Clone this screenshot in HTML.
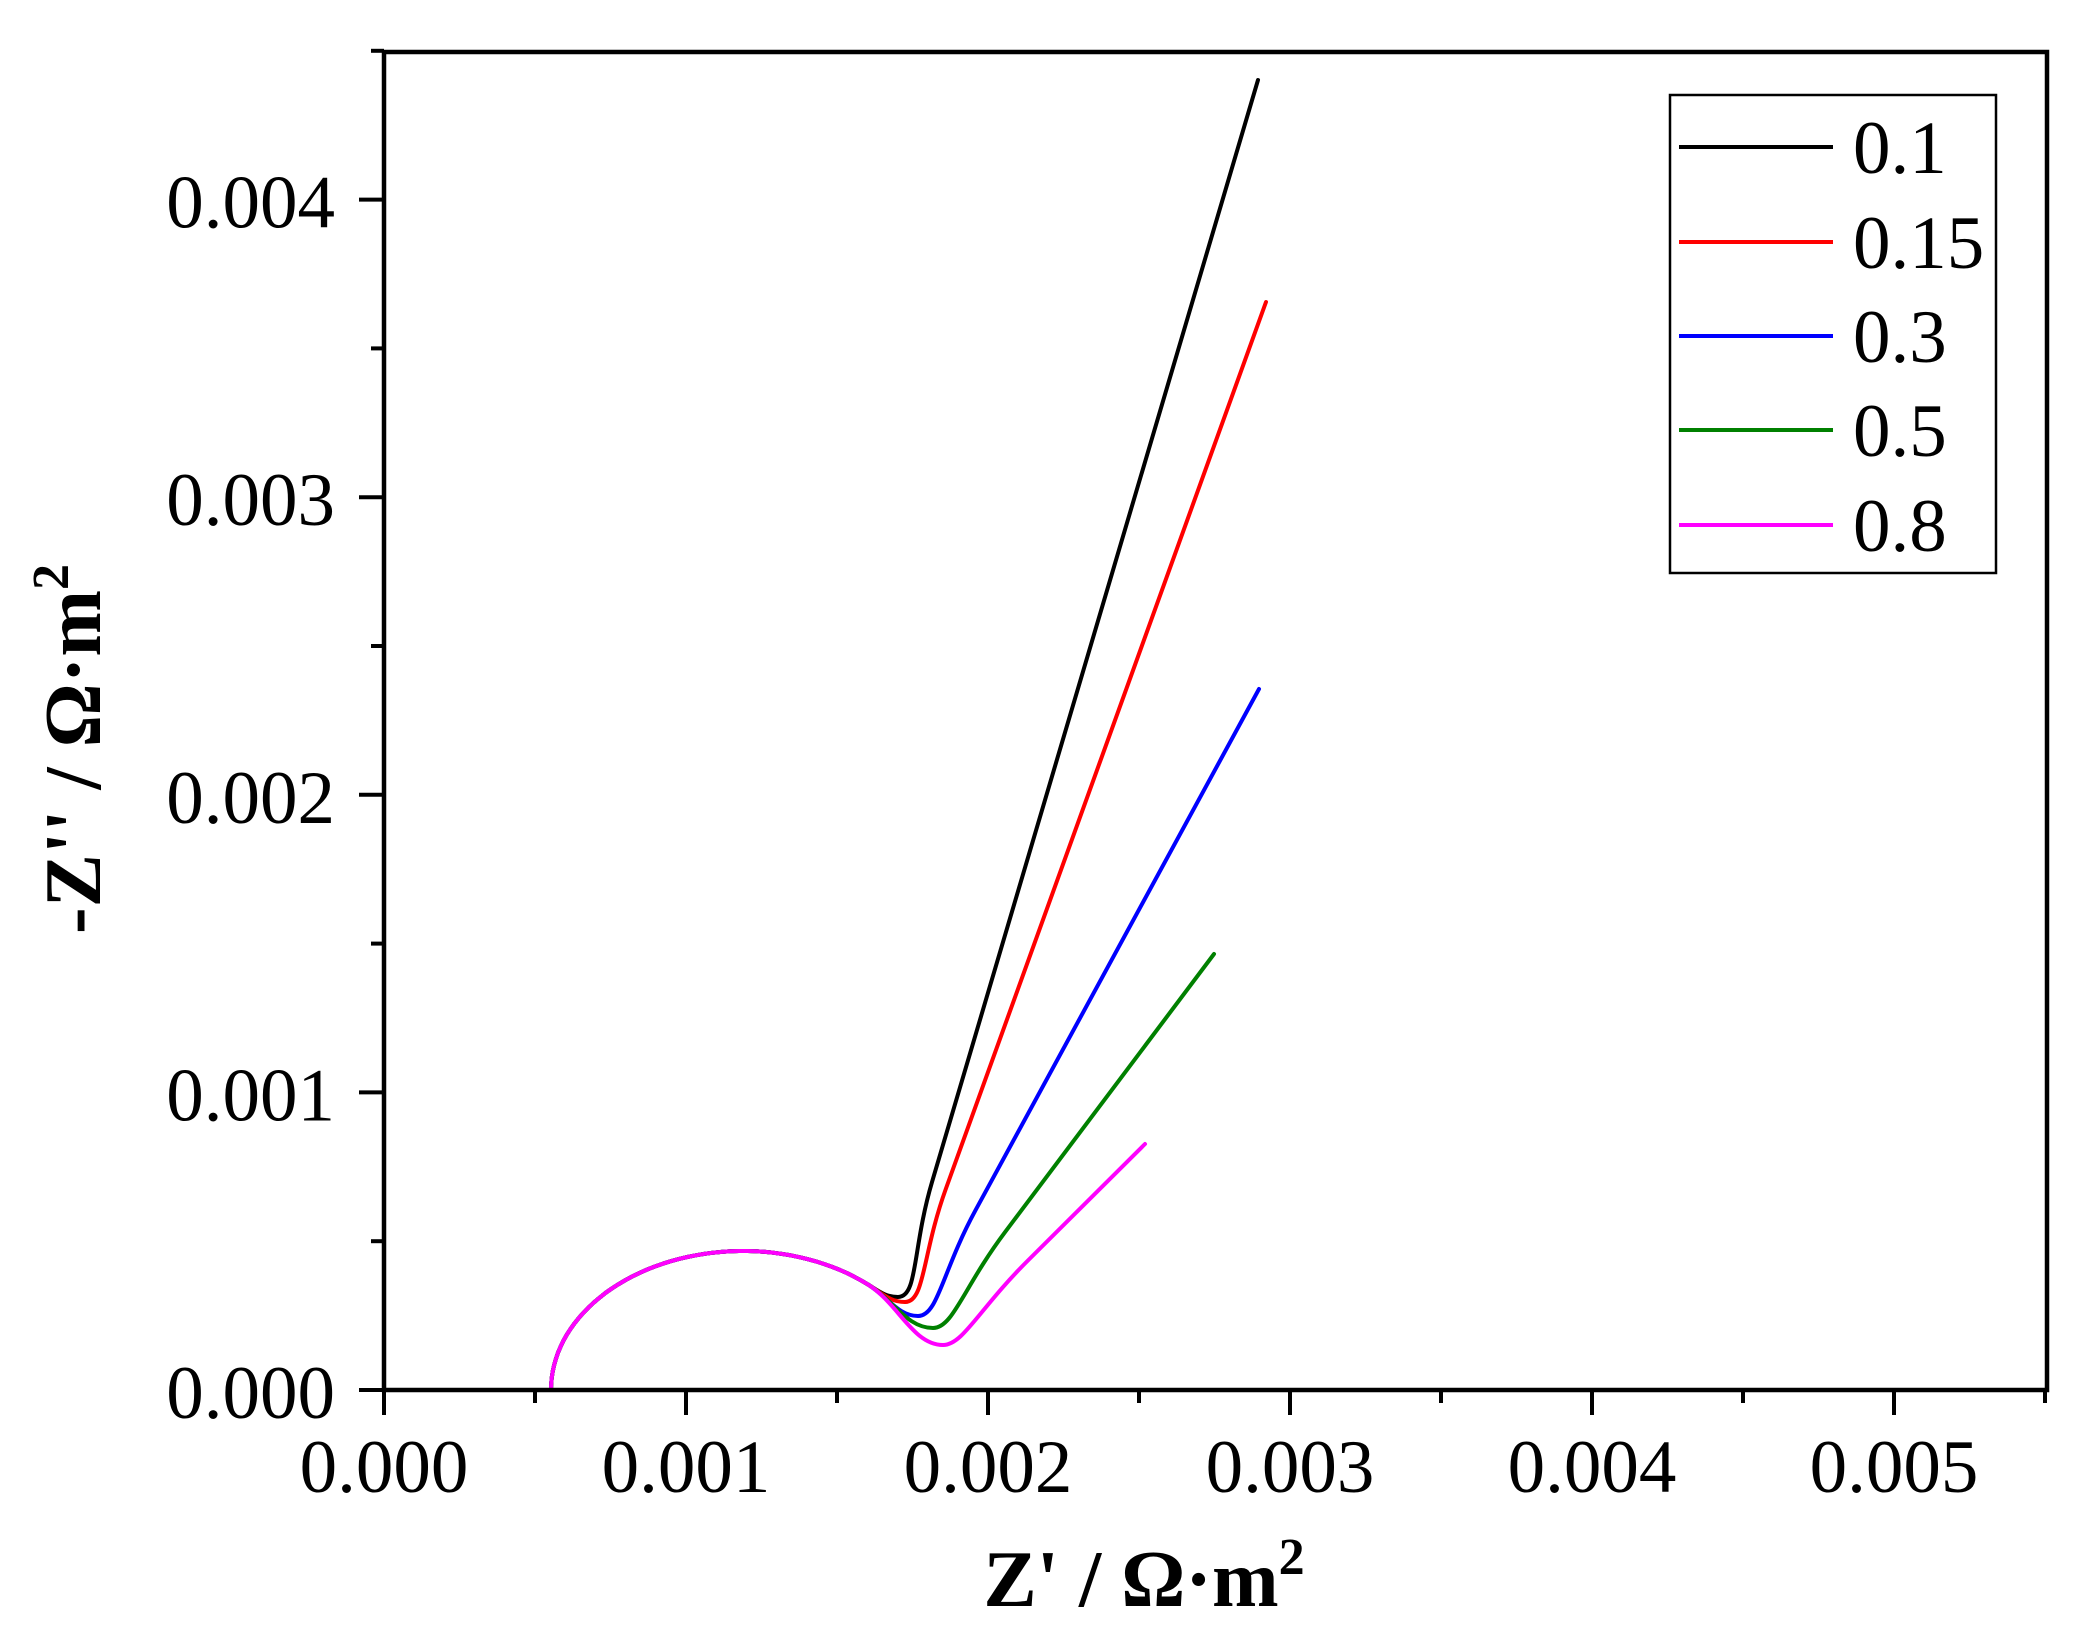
<!DOCTYPE html>
<html><head><meta charset="utf-8"><style>
html,body{margin:0;padding:0;background:#fff;}
svg{display:block;}
text{font-family:"Liberation Serif","DejaVu Serif",serif;fill:#000;}
</style></head><body>
<svg id="s" width="2099" height="1650" viewBox="0 0 2099 1650" xmlns="http://www.w3.org/2000/svg">
<rect x="0" y="0" width="2099" height="1650" fill="#fff"/>
<g id="curves" fill="none" stroke-width="4" stroke-linejoin="round" stroke-linecap="round"></g>
<rect x="384" y="52" width="1663" height="1338" fill="none" stroke="#000" stroke-width="4.5"/>
<g id="ticks" stroke="#000" stroke-width="4"></g>
<g id="labels" font-size="75"></g>
<text x="1144" y="1606" font-size="80" font-weight="bold" text-anchor="middle">Z' / Ω·m<tspan font-size="52" dy="-32">2</tspan></text>
<text transform="translate(100,749) rotate(-90)" font-size="80" font-weight="bold" text-anchor="middle">-Z'' / Ω·m<tspan font-size="52" dy="-32">2</tspan></text>
<rect x="1670" y="95" width="326" height="478" fill="#fff" stroke="#000" stroke-width="2.5"/>
<g id="legend" font-size="75"></g>
</svg>
<script>
var NS="http://www.w3.org/2000/svg";
function el(p,t,a,txt){var e=document.createElementNS(NS,t);for(var k in a)e.setAttribute(k,a[k]);if(txt!=null)e.textContent=txt;document.getElementById(p).appendChild(e);return e;}
function X(x){return 384+x*302000;}function Y(y){return 1390-y*297600;}
for(var i=0;i<=11;i++){var x=X(i*0.0005);var L=(i%2==0)?25:13;el("ticks","line",{x1:x,y1:1390,x2:x,y2:1390+L});
 if(i%2==0&&i<=10)el("labels","text",{x:x,y:1492,"text-anchor":"middle"},(i*0.0005).toFixed(3));}
for(var i=0;i<=9;i++){var y=Y(i*0.0005);var L=(i%2==0)?25:13;el("ticks","line",{x1:384,y1:y,x2:384-L,y2:y});
 if(i%2==0&&i<=8)el("labels","text",{x:335,y:y+28,"text-anchor":"end"},(i*0.0005).toFixed(3));}
var arc=[];var cx=743,r=192,h=139;var thE=Math.acos((743-868)/192);
for(var t=0;t<=1.0001;t+=0.02){var th=t*thE;arc.push([cx-r*Math.cos(th),1390-h*Math.sin(th)]);}
var A=arc[arc.length-1];
var arcStr="M"+arc.map(function(p){return p[0].toFixed(1)+","+p[1].toFixed(1);}).join(" L");
var S=[["#000",[898,1297],[1258,80],"0.1"],["#f00",[905,1302],[1266,302],"0.15"],["#00f",[918,1316],[1259,689],"0.3"],["#008000",[933,1328],[1214,954],"0.5"],["#f0f",[943,1345],[1145,1144],"0.8"]];
S.forEach(function(s,idx){var M=s[1],E=s[2];var dx=E[0]-M[0],dy=E[1]-M[1];var len=Math.hypot(dx,dy);var ux=dx/len,uy=dy/len;
 var B=[M[0]+ux*120,M[1]+uy*120];
 var k=(M[0]-A[0]);
 var d=arcStr+" C"+(A[0]+k*0.4)+","+(A[1]+k*0.25)+" "+(M[0]-k*0.4)+","+M[1]+" "+M[0]+","+M[1]+
 " C"+(M[0]+20)+","+M[1]+" "+(B[0]-ux*70)+","+(B[1]-uy*70)+" "+B[0]+","+B[1]+" L"+E[0]+","+E[1];
 el("curves","path",{d:d,stroke:s[0]});
 var ly=[147,242,336,430,525][idx];
 el("legend","line",{x1:1679,y1:ly,x2:1833,y2:ly,stroke:s[0],"stroke-width":4});
 el("legend","text",{x:1853,y:ly+26},s[3]);});
</script>
</body></html>
